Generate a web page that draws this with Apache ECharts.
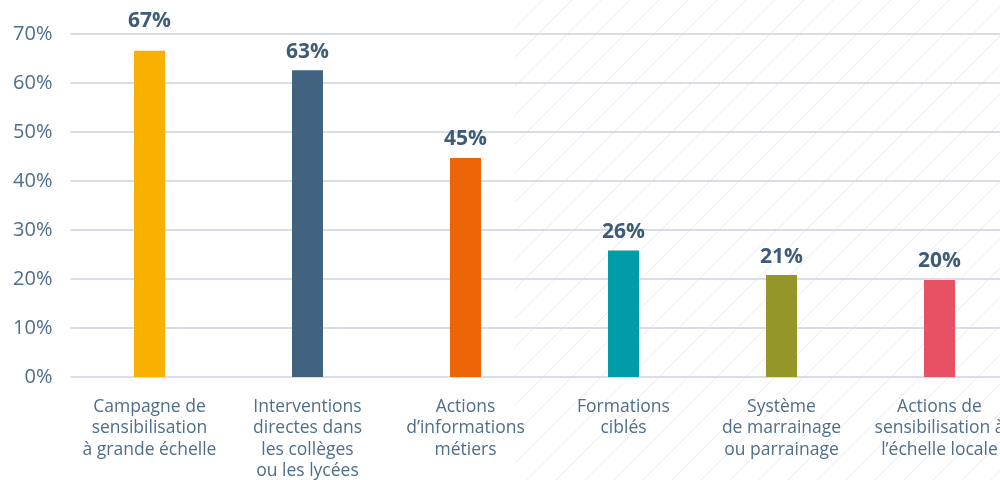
<!DOCTYPE html>
<html>
<head>
<meta charset="utf-8">
<script src="https://cdn.jsdelivr.net/npm/echarts@6/dist/echarts.min.js"></script>
<style>html,body{margin:0;padding:0;background:#fff}#c{width:1000px;height:480px}</style>
</head>
<body>
<div id="c"></div>
<script>
const categories = [
  "Campagne de\nsensibilisation\nà grande échelle",
  "Interventions\ndirectes dans\nles collèges\nou les lycées",
  "Actions\nd’informations\nmétiers",
  "Formations\nciblés",
  "Système\nde marrainage\nou parrainage",
  "Actions de\nsensibilisation à\nl’échelle locale"
];
const values = [66.6, 62.6, 44.7, 25.8, 20.8, 19.8];
const valueLabels = ["67%", "63%", "45%", "26%", "21%", "20%"];
const barColors = ["#f9b000", "#41637f", "#ec6608", "#009ca8", "#95962a", "#e85163"];
const yTicks = [0, 10, 20, 30, 40, 50, 60, 70];

const chart = echarts.init(document.getElementById('c'));

// background hatching (decorative)
const hatch = [];
for (let c = 543; c < 1480; c += 29) {
  const y1 = Math.max(0, c - 1000), y2 = Math.min(480, c - 515);
  if (y2 <= y1) continue;
  hatch.push({type: 'line', z: -10, silent: true,
    shape: {x1: c - y1, y1: y1, x2: c - y2, y2: y2},
    style: {stroke: '#e8ebf1', lineWidth: 1}});
}

chart.setOption({
  animation: false,
  textStyle: {fontFamily: 'Open Sans'},
  graphic: hatch,
  grid: {left: 70.5, top: 34, right: -18.5, bottom: 103, containLabel: false, outerBoundsMode: 'none'},
  xAxis: {
    type: 'category', data: categories,
    axisLine: {show: false}, axisTick: {show: false},
    axisLabel: {interval: 0, color: '#4f6e8a', fontSize: 17.5, lineHeight: 21.5, margin: 19, fontFamily: 'Open Sans'}
  },
  yAxis: {
    type: 'value', min: yTicks[0], max: yTicks[yTicks.length - 1], interval: 10,
    axisLine: {show: false}, axisTick: {show: false},
    axisLabel: {formatter: '{value}%', color: '#4f6e8a', fontSize: 20, margin: 18, fontFamily: 'Open Sans'},
    splitLine: {lineStyle: {color: '#d9dde7', width: 2}}
  },
  series: [{
    type: 'bar', barWidth: 31,
    data: values.map((v, i) => {
      const d = {value: v, itemStyle: {color: barColors[i]}};
      if (i === 0) d.label = {distance: 19};
      return d;
    }),
    label: {
      show: true, position: 'top', distance: 8,
      formatter: p => valueLabels[p.dataIndex],
      color: '#3d5c78', fontSize: 21, fontWeight: 'bold', fontFamily: 'Open Sans'
    }
  }]
});
</script>
</body>
</html>
